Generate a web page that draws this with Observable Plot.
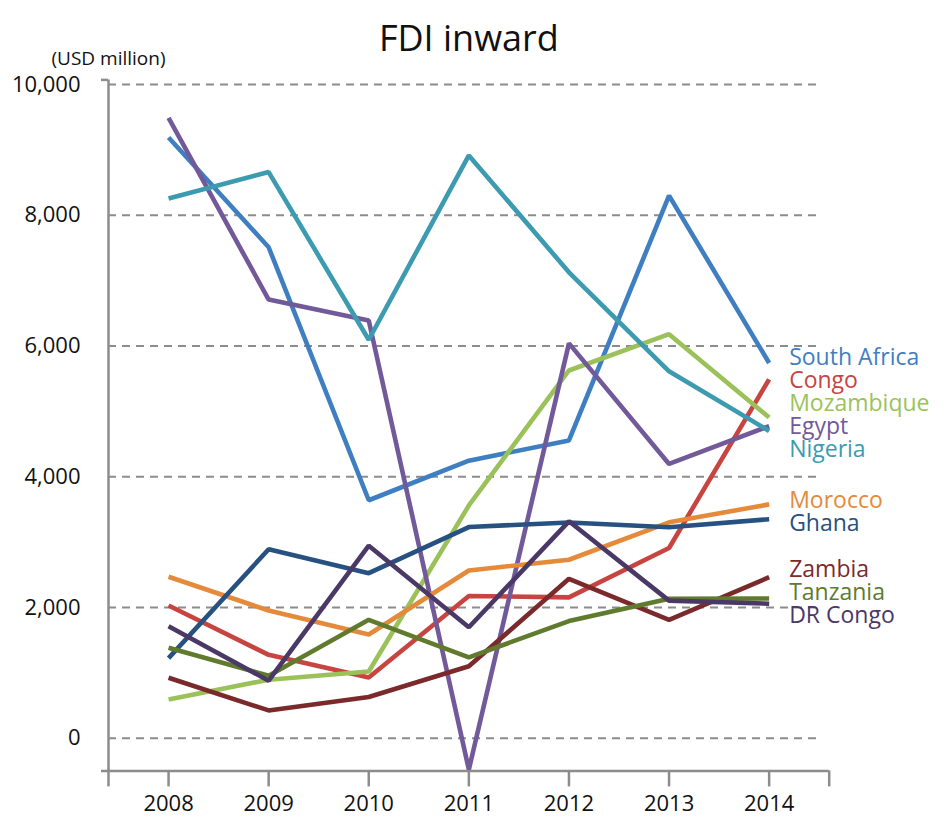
<!DOCTYPE html>
<html>
<head>
<meta charset="utf-8">
<script src="https://cdn.jsdelivr.net/npm/d3@7"></script>
<script src="https://cdn.jsdelivr.net/npm/@observablehq/plot@0.6"></script>
<style>
  html, body { margin: 0; padding: 0; background: #fff; }
</style>
</head>
<body>
<div id="chart"></div>
<script>
const years = [2008, 2009, 2010, 2011, 2012, 2013, 2014];
const countries = ["South Africa", "Congo", "Mozambique", "Egypt", "Nigeria", "Morocco", "Ghana", "Zambia", "Tanzania", "DR Congo"];
const southAfrica = [9190, 7510, 3640, 4245, 4555, 8300, 5740];
const congo       = [2030, 1275, 930, 2175, 2155, 2910, 5490];
const mozambique  = [592, 895, 1020, 3560, 5625, 6180, 4905];
const egypt       = [9490, 6710, 6390, -480, 6040, 4195, 4775];
const nigeria     = [8255, 8660, 6095, 8915, 7127, 5612, 4700];
const morocco     = [2470, 1953, 1586, 2566, 2730, 3302, 3577];
const ghana       = [1225, 2890, 2525, 3230, 3300, 3228, 3350];
const zambia      = [925, 425, 630, 1100, 2438, 1811, 2463];
const tanzania    = [1383, 957, 1811, 1237, 1792, 2132, 2138];
const drCongo     = [1713, 880, 2945, 1698, 3318, 2104, 2058];
const yTicks = [0, 2000, 4000, 6000, 8000, 10000];
const colors = ["#3f7fc1", "#c84440", "#9bc25a", "#72599a", "#3c9bb0", "#e48a3a", "#275180", "#7b2a2c", "#607b2e", "#4a3866"];

const seriesValues = [southAfrica, congo, mozambique, egypt, nigeria, morocco, ghana, zambia, tanzania, drCongo];

const rows = [];
countries.forEach((c, i) => years.forEach((yr, j) => rows.push({country: c, year: yr, value: seriesValues[i][j]})));

// layout
const W = 951, H = 819;
const mL = 108, mR = 122.3, mT = 79.4, mB = 48.6;
const xDom = [2007.4, 2014.6];
const yDom = [-500, 10070];
const unitsPerPx = (yDom[1] - yDom[0]) / (H - mT - mB);
const xPerPx = (xDom[1] - xDom[0]) / (W - mL - mR);

// end labels, dodged so they do not overlap
const gap = 23 * unitsPerPx;
const ends = countries.map((c, i) => ({country: c, v: seriesValues[i][years.length - 1]}))
  .sort((a, b) => b.v - a.v);
let clusters = [];
for (const e of ends) {
  clusters.push({items: [e], mean: e.v});
  while (clusters.length > 1) {
    const a = clusters[clusters.length - 2], b = clusters[clusters.length - 1];
    const aBottom = a.mean - (a.items.length - 1) / 2 * gap;
    const bTop = b.mean + (b.items.length - 1) / 2 * gap;
    if (aBottom - gap < bTop) {
      const items = a.items.concat(b.items);
      clusters.splice(-2, 2, {items, mean: d3.mean(items, d => d.v)});
    } else break;
  }
}
const labels = [];
for (const cl of clusters) {
  cl.items.forEach((it, k) => labels.push({country: it.country, y: cl.mean + ((cl.items.length - 1) / 2 - k) * gap}));
}

const axisColor = "#8c8c8c";
const xTickPos = [xDom[0], ...years, xDom[1]];

const chart = Plot.plot({
  width: W, height: H,
  marginLeft: mL, marginRight: mR, marginTop: mT, marginBottom: mB,
  x: {domain: xDom},
  y: {domain: yDom},
  color: {domain: countries, range: colors},
  style: {fontFamily: "'Open Sans', sans-serif", background: "#fff", color: "#111"},
  marks: [
    Plot.ruleY(yTicks, {y: d => d, x1: xDom[0], x2: xDom[0] + 712 * xPerPx, stroke: axisColor, strokeWidth: 2, strokeDasharray: "8,6"}),
    Plot.ruleX([xDom[0]], {y1: yDom[0], y2: yDom[1], stroke: axisColor, strokeWidth: 2.5}),
    Plot.ruleY([yDom[1]], {x1: xDom[0] - 7 * xPerPx, x2: xDom[0], stroke: axisColor, strokeWidth: 2.5}),
    Plot.ruleY([yDom[0]], {x1: xDom[0] - 7 * xPerPx, x2: xDom[1], stroke: axisColor, strokeWidth: 2.5}),
    Plot.ruleX(xTickPos, {x: d => d, y1: yDom[0], y2: yDom[0] - 16 * unitsPerPx, stroke: axisColor, strokeWidth: 2.5}),
    Plot.axisX({ticks: years, tickFormat: d => String(d), tickSize: 0, tickPadding: 24, fontSize: 22, label: null}),
    Plot.axisY({ticks: yTicks, tickFormat: d3.format(","), tickSize: 0, tickPadding: 28, fontSize: 22, label: null}),
    Plot.line(rows, {x: "year", y: "value", z: "country", stroke: "country", strokeWidth: 4.6, strokeLinejoin: "miter", strokeLinecap: "butt"}),
    Plot.text(labels, {x: years[years.length - 1], y: "y", text: "country", fill: "country", textAnchor: "start", dx: 20, fontSize: 23}),
    Plot.text(["FDI inward"], {frameAnchor: "top", dy: -54, fontSize: 36, fill: "#111"}),
    Plot.text(["(USD million)"], {frameAnchor: "top-left", textAnchor: "middle", dy: -28, fontSize: 19, fill: "#111"})
  ]
});
document.getElementById("chart").append(chart);
</script>
</body>
</html>
